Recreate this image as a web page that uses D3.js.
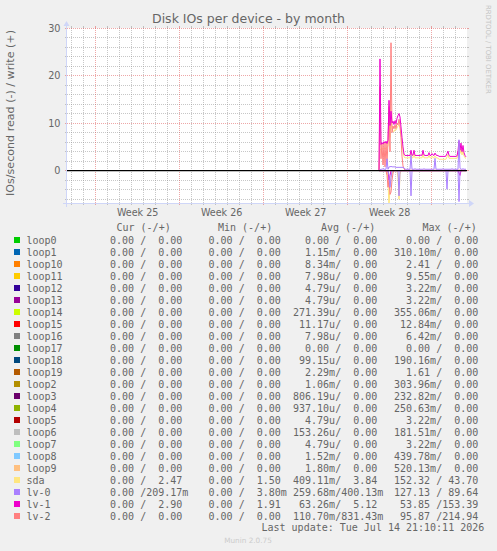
<!DOCTYPE html>
<html><head><meta charset="utf-8">
<script src="https://cdn.jsdelivr.net/npm/d3@7"></script>
<style>
body{margin:0;background:#f0f0f0;}
svg{display:block;}
text{font-family:"DejaVu Sans",sans-serif;fill:#666;}
.mono{font-family:"DejaVu Sans Mono",monospace;font-size:10px;white-space:pre;}
</style>
</head><body>
<svg id="c" width="497" height="551"></svg>
<script>
// ---------------- DATA ----------------
const titleText = "Disk IOs per device - by month";
const yAxisLabel = "IOs/second read (-) / write (+)";
const timeStart = new Date(2026, 5, 12, 14, 40);
const timeEnd = new Date(2026, 6, 15, 22, 40);
const dataStart = new Date(2026, 6, 8, 14, 40);
const stepHours = 2;
const yMin = -6.8, yMax = 30;
const yMajorTicks = [0, 10, 20, 30];
const yMinorTicks = [-6, -4, -2, 2, 4, 6, 8, 12, 14, 16, 18, 22, 24, 26, 28];

// writes (+) and reads (-), one value every 2 hours from dataStart
const sdaWrite = [0, 4.2, 4.6, 4.7, 4.5, 4.8, 4.6, 4.7, 4.9, 5.1,
  12.5, 7.0, 11.0, 8.6, 8.4, 8.2, 8.7, 8.5, 9.0, 9.4,
  9.6, 9.0, 7.6, 5.6, 4.0, 2.9, 2.7, 2.7, 2.7, 2.7,
  2.7, 2.7, 3.5, 2.7, 2.7, 3.5, 2.7, 2.7, 2.7, 2.7,
  2.7, 2.7, 2.7, 2.7, 3.5, 2.7, 2.7, 2.7, 2.7, 2.7,
  3.2, 2.7, 2.7, 3.1, 2.7, 2.7, 3.1, 2.7, 2.7, 2.6,
  2.4, 2.4, 2.4, 2.4, 2.4, 2.4, 2.4, 2.4, 2.9, 3.4,
  2.6, 2.6, 2.6, 2.6, 2.6, 2.6, 2.6, 2.6, 2.6, 3.5,
  5.0, 3.6, 4.6, 3.3, 4.3, 3.1, 2.7, 2.6];
const sdaRead = [0, 0, 0, 0, 0, 0, 0, 0, 0, 2,
  8, 3, 1.5, 0.5, 0, 0, 0, 0, 0, 1.5,
  6, 0.8, 0, 0, 0, 0, 0, 0, 0, 0,
  0, 0, 0, 0, 0, 0, 0, 0, 0, 0,
  0, 0, 0, 0, 0, 0, 0, 0, 0, 0,
  0, 0, 0, 0, 0, 0, 0, 0, 0, 0,
  0, 0, 0, 0, 0, 0, 0, 0, 0, 0,
  0, 0, 0, 0, 0, 0, 0, 0, 0, 0,
  0, 0, 0, 0, 0, 0, 0, 0];
const lv0Write = [0, 0.2, 0.3, 0.3, 0.4, 0.3, 0.3, 0.3, 2.5, 0.3,
  0.8, 0.8, 0.9, 0.8, 0.8, 0.8, 0.8, 0.7, 0.7, 0.7,
  0.7, 0.7, 0.7, 0.7, 0.7, 0.6, 0.3, 0.3, 0.3, 0.3,
  0.3, 0.3, 3.2, 0.3, 0.3, 0.3, 0.4, 0.3, 0.3, 0.3,
  0.3, 0.3, 0.3, 0.3, 0.3, 0.4, 0.3, 0.3, 0.3, 0.3,
  0.3, 0.3, 0.3, 0.3, 0.3, 0.3, 2.6, 0.3, 0.3, 0.3,
  0.3, 0.3, 0.3, 0.3, 0.4, 0.3, 0.3, 0.3, 0.3, 0.3,
  0.3, 0.3, 0.3, 0.4, 0.3, 0.3, 0.3, 0.3, 0.3, 0.3,
  6.5, 0.5, 0.3, 0.3, 0.4, 0.3, 0.3, 0.3];
const lv0Read = [0, 0, 0, 0, 0, 0, 0, 0, 0, 0,
  1, 3.5, 1.5, 0, 0, 0, 0, 0, 0, 0,
  5.3, 0, 0, 0, 0, 0, 0, 0, 0, 0,
  0, 0, 5.3, 0, 0, 0, 0, 0, 0, 0,
  0, 0, 0, 0, 0, 0, 0, 0, 0, 0,
  0, 0, 0, 0, 0, 0, 0, 0, 0, 0,
  0, 0, 0, 0, 0, 0, 0, 0, 3.9, 0,
  0, 0, 0, 0, 0, 0, 0, 0, 0, 0,
  6.5, 0, 0, 0, 0, 0, 0, 0];
const lv1Write = [0, 23.5, 5.5, 5.9, 5.6, 6.1, 5.8, 6.2, 5.7, 6.4,
  14.8, 9.5, 12.5, 10.0, 10.4, 9.7, 10.5, 9.9, 11.0, 11.6,
  12.0, 11.3, 9.2, 7.0, 5.0, 3.5, 3.2, 3.2, 3.2, 3.2,
  3.2, 3.2, 4.3, 3.2, 3.3, 4.3, 3.2, 3.2, 3.2, 3.2,
  3.2, 3.2, 3.3, 3.2, 4.3, 3.3, 3.2, 3.2, 3.2, 3.2,
  3.8, 3.2, 3.2, 3.6, 3.3, 3.2, 3.7, 3.3, 3.2, 3.2,
  3.0, 3.0, 3.0, 3.0, 3.0, 3.0, 3.0, 3.1, 3.6, 4.1,
  3.2, 3.0, 3.0, 3.0, 3.0, 3.0, 3.0, 3.0, 3.1, 4.2,
  6.3, 4.3, 5.8, 4.0, 5.3, 3.8, 3.2, 2.9];
const lv1Read = [0, 0, 0, 0, 0, 0, 0, 0, 0, 0,
  2, 1, 0, 0, 0, 0, 0, 0, 0, 0,
  0, 0, 0, 0, 0, 0, 0, 0, 0, 0,
  0, 0, 0, 0, 0, 0, 0, 0, 0, 0,
  0, 0, 0, 0, 0, 0, 0, 0, 0, 0,
  0, 0, 0, 0, 0, 0, 0, 0, 0, 0,
  0, 0, 0, 0, 0, 0, 0, 0, 0, 0,
  0, 0, 0, 0, 0, 0, 0, 0, 0, 0,
  0.5, 1, 0, 0, 0, 0, 0, 0];
const lv2Write = [0, 17.7, 2.5, 5.6, 1.2, 5.9, 0.8, 6.0, 1.5, 6.2,
  13.5, 4.0, 26.9, 8.0, 9.4, 8.8, 9.6, 8.9, 10.0, 9.6,
  10.8, 9.4, 7.0, 3.0, 1.0, 0.4, 0.1, 0.1, 0.1, 0.1,
  0.1, 0.1, 0.1, 0.1, 0.1, 0.1, 0.1, 0.1, 0.1, 0.1,
  0.1, 0.1, 0.1, 0.1, 0.1, 0.1, 0.1, 0.1, 0.1, 0.1,
  0.1, 0.1, 0.1, 0.1, 0.1, 0.1, 0.1, 0.1, 0.1, 0.1,
  0.1, 0.1, 0.1, 0.1, 0.1, 0.1, 0.1, 0.1, 0.1, 0.1,
  0.1, 0.1, 0.1, 0.1, 0.1, 0.1, 0.1, 0.1, 0.1, 0.1,
  0.1, 0.1, 0.1, 0.1, 0.1, 0.1, 0.1, 0.1];
const lv2Read = [0, 0, 0, 0, 0, 0, 0, 0, 1, 3.5,
  2, 5, 4.5, 2, 0.5, 0, 0, 0, 0, 0,
  0, 0, 0, 0, 0, 0, 0, 0, 0, 0,
  0, 0, 0, 0, 0, 0, 0, 0, 0, 0,
  0, 0, 0, 0, 0, 0, 0, 0, 0, 0,
  0, 0, 0, 0, 0, 0, 0, 0, 0, 0,
  0, 0, 0, 0, 0, 0, 0, 0, 0, 0,
  0, 0, 0, 0, 0, 0, 0, 0, 0, 0,
  0, 0, 0, 0, 0, 0, 0, 0];

// legend
const legendNames = ["loop0","loop1","loop10","loop11","loop12","loop13","loop14","loop15","loop16","loop17","loop18","loop19","loop2","loop3","loop4","loop5","loop6","loop7","loop8","loop9","sda","lv-0","lv-1","lv-2"];
const legendColors = ["#00CC00","#0066B3","#FF8000","#FFCC00","#330099","#990099","#CCFF00","#FF0000","#808080","#008F00","#00487D","#B35A00","#B38F00","#6B006B","#8FB300","#B30000","#BEBEBE","#80FF80","#80C9FF","#FFC080","#FFE680","#AA80FF","#EE00CC","#FF8080"];
const curRead  = ["0.00","0.00","0.00","0.00","0.00","0.00","0.00","0.00","0.00","0.00","0.00","0.00","0.00","0.00","0.00","0.00","0.00","0.00","0.00","0.00","0.00","0.00","0.00","0.00"];
const curWrite = ["0.00","0.00","0.00","0.00","0.00","0.00","0.00","0.00","0.00","0.00","0.00","0.00","0.00","0.00","0.00","0.00","0.00","0.00","0.00","0.00","2.47","209.17m","2.90","0.00"];
const minRead  = ["0.00","0.00","0.00","0.00","0.00","0.00","0.00","0.00","0.00","0.00","0.00","0.00","0.00","0.00","0.00","0.00","0.00","0.00","0.00","0.00","0.00","0.00","0.00","0.00"];
const minWrite = ["0.00","0.00","0.00","0.00","0.00","0.00","0.00","0.00","0.00","0.00","0.00","0.00","0.00","0.00","0.00","0.00","0.00","0.00","0.00","0.00","1.50","3.80m","1.91","0.00"];
const avgRead  = ["0.00","1.15m","8.34m","7.98u","4.79u","4.79u","271.39u","11.17u","7.98u","0.00","99.15u","2.29m","1.06m","806.19u","937.10u","4.79u","153.26u","4.79u","1.52m","1.80m","409.11m","259.68m","63.26m","110.70m"];
const avgWrite = ["0.00","0.00","0.00","0.00","0.00","0.00","0.00","0.00","0.00","0.00","0.00","0.00","0.00","0.00","0.00","0.00","0.00","0.00","0.00","0.00","3.84","400.13m","5.12","831.43m"];
const maxRead  = ["0.00","310.10m","2.41","9.55m","3.22m","3.22m","355.06m","12.84m","6.42m","0.00","190.16m","1.61","303.96m","232.82m","250.63m","3.22m","181.51m","3.22m","439.78m","520.13m","152.32","127.13","53.85","95.87"];
const maxWrite = ["0.00","0.00","0.00","0.00","0.00","0.00","0.00","0.00","0.00","0.00","0.00","0.00","0.00","0.00","0.00","0.00","0.00","0.00","0.00","0.00","43.70","89.64","153.39","214.94"];
const columnHeaders = ["Cur (-/+)","Min (-/+)","Avg (-/+)","Max (-/+)"];
const lastUpdate = "Last update: Tue Jul 14 21:10:11 2026";
const watermark = "Munin 2.0.75";
const sideText = "RRDTOOL / TOBI OETIKER";

// ---------------- DRAW ----------------
const W = 497, H = 551;
const X0 = 67, X1 = 467, Y0 = 203, Y1 = 28;
const svg = d3.select("#c");
svg.append("rect").attr("width", W).attr("height", H).attr("fill", "#f0f0f0");
svg.append("rect").attr("x", X0).attr("y", Y1).attr("width", X1 - X0).attr("height", Y0 - Y1).attr("fill", "#ffffff");

const x = d3.scaleTime().domain([timeStart, timeEnd]).range([X0, X1]);
const y = d3.scaleLinear().domain([yMin, yMax]).range([Y0, Y1]);
const snap = v => Math.floor(v) + 0.5;

const GRID = "rgba(143,143,143,0.5)";
const MGRID = "rgba(222,79,79,0.5)";
const grid = svg.append("g");

function hline(v, col) {
  const yy = snap(y(v));
  grid.append("line").attr("x1", X0 - 2).attr("x2", X0).attr("y1", yy).attr("y2", yy).attr("stroke", col);
  grid.append("line").attr("x1", X1).attr("x2", X1 + 2).attr("y1", yy).attr("y2", yy).attr("stroke", col);
  grid.append("line").attr("x1", X0).attr("x2", X1).attr("y1", yy).attr("y2", yy).attr("stroke", col).attr("stroke-dasharray", "1,1");
}
function vline(t, col) {
  const xx = snap(x(t));
  grid.append("line").attr("x1", xx).attr("x2", xx).attr("y1", Y1 - 2).attr("y2", Y1).attr("stroke", col);
  grid.append("line").attr("x1", xx).attr("x2", xx).attr("y1", Y0).attr("y2", Y0 + 2).attr("stroke", col);
  grid.append("line").attr("x1", xx).attr("x2", xx).attr("y1", Y1).attr("y2", Y0).attr("stroke", col).attr("stroke-dasharray", "1,1");
}
yMinorTicks.forEach(v => hline(v, GRID));
const mondays = d3.timeMonday.range(timeStart, timeEnd);
d3.timeDay.range(timeStart, timeEnd).filter(d => d.getDay() !== 1).forEach(d => vline(d, GRID));
yMajorTicks.forEach(v => hline(v, MGRID));
mondays.forEach(d => vline(d, MGRID));

// y tick labels
yMajorTicks.forEach(v => {
  svg.append("text").attr("x", 60.5).attr("y", y(v) + 3.6).attr("text-anchor", "end")
    .attr("font-size", 9.7).text(v);
});
// week labels
d3.timeMonday.range(d3.timeMonday.offset(timeStart, -1), timeEnd).forEach(m => {
  const c = d3.timeHour.offset(m, 84);
  if (c < timeStart || c > timeEnd) return;
  svg.append("text").attr("x", x(c)).attr("y", 216).attr("text-anchor", "middle")
    .attr("font-size", 9.6).text("Week " + d3.timeFormat("%V")(m));
});

// data lines
const clip = svg.append("clipPath").attr("id", "plotclip");
clip.append("rect").attr("x", X0).attr("y", Y1).attr("width", X1 - X0).attr("height", Y0 - Y1);
const plot = svg.append("g").attr("clip-path", "url(#plotclip)");
const tAt = i => d3.timeHour.offset(dataStart, i * stepHours);
const line = d3.line().x((d, i) => x(tAt(i))).y(d => y(d));
const series = [
  {w: sdaWrite, r: sdaRead, c: legendColors[20]},
  {w: lv2Write, r: lv2Read, c: legendColors[23]},
  {w: lv1Write, r: lv1Read, c: legendColors[22]},
  {w: lv0Write, r: lv0Read, c: legendColors[21]}
];
series.forEach(s => {
  plot.append("path").attr("d", line(s.r.map(v => -v))).attr("fill", "none").attr("stroke", s.c).attr("stroke-width", 1);
});
series.forEach(s => {
  plot.append("path").attr("d", line(s.w)).attr("fill", "none").attr("stroke", s.c).attr("stroke-width", 1);
});
// zero rule
svg.append("line").attr("x1", X0).attr("x2", X1).attr("y1", y(0)).attr("y2", y(0)).attr("stroke", "#000").attr("stroke-width", 1.2);

// axes
const AX = "#CFD6F8";
svg.append("line").attr("x1", X0 - 4).attr("x2", X1 + 4).attr("y1", Y0 + 0.5).attr("y2", Y0 + 0.5).attr("stroke", AX);
svg.append("line").attr("x1", X0 - 0.5).attr("x2", X0 - 0.5).attr("y1", Y0 + 4).attr("y2", Y1 - 4).attr("stroke", AX);
svg.append("path").attr("d", `M${X1 + 2},${Y0 - 3}L${X1 + 2},${Y0 + 4}L${X1 + 7},${Y0 + 0.5}Z`).attr("fill", AX);
svg.append("path").attr("d", `M${X0 - 3.5},${Y1 - 2}L${X0 + 2.5},${Y1 - 2}L${X0 - 0.5},${Y1 - 7}Z`).attr("fill", AX);

// titles
svg.append("text").attr("x", 248.5).attr("y", 23.3).attr("text-anchor", "middle").attr("font-size", 12.5).text(titleText);
svg.append("text").attr("transform", "translate(14.3,113) rotate(-90)").attr("text-anchor", "middle").attr("font-size", 11.1).text(yAxisLabel);
svg.append("text").attr("transform", "translate(485.5,5) rotate(90)").attr("font-size", 6.9).style("fill", "#c4c4c4").text(sideText);

// legend
const fmt = s => {
  const u = /[a-zA-Z]$/.test(s) ? s.slice(-1) : " ";
  const n = u === " " ? s : s.slice(0, -1);
  return n.padStart(6, " ") + u;
};
const headerX = [116.5, 218, 321, 422.5];
const fieldX = [98, 196.5, 293, 394];
columnHeaders.forEach((h, j) => {
  svg.append("text").attr("class", "mono").attr("x", headerX[j]).attr("y", 230.5).text(h);
});
const cols = [[curRead, curWrite], [minRead, minWrite], [avgRead, avgWrite], [maxRead, maxWrite]];
legendNames.forEach((name, i) => {
  const by = 243.5 + 12 * i;
  svg.append("rect").attr("x", 14).attr("y", by - 6.5).attr("width", 6).attr("height", 6).attr("fill", legendColors[i]);
  svg.append("text").attr("class", "mono").attr("x", 26.5).attr("y", by).text(name);
  cols.forEach((c, j) => {
    svg.append("text").attr("class", "mono").attr("x", fieldX[j]).attr("y", by).text(fmt(c[0][i]) + "/" + fmt(c[1][i]));
  });
});
svg.append("text").attr("class", "mono").attr("x", 261.5).attr("y", 530.5).text(lastUpdate);
svg.append("text").attr("x", 248).attr("y", 543).attr("text-anchor", "middle").attr("font-size", 7.3).style("fill", "#cccccc").text(watermark);
</script>
</body></html>
